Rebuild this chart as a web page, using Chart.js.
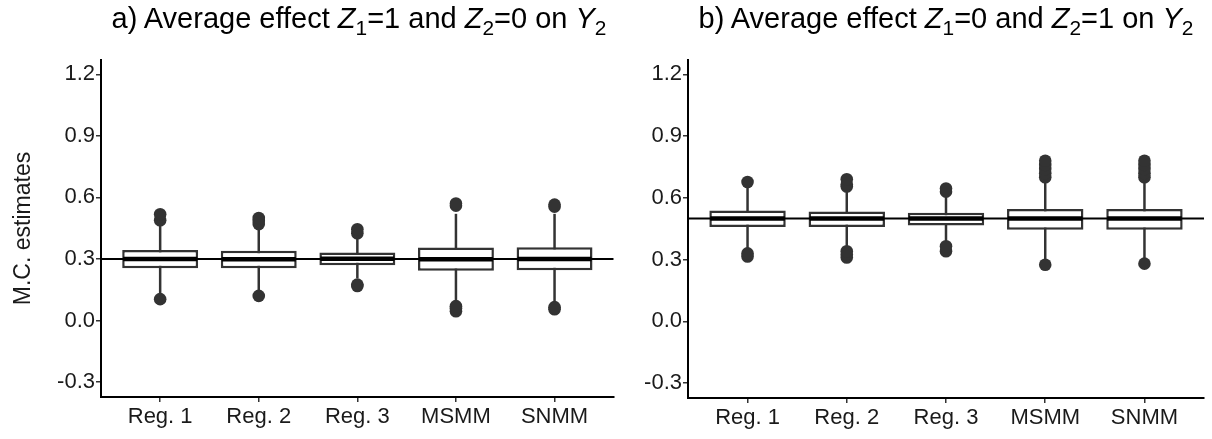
<!DOCTYPE html>
<html>
<head>
<meta charset="utf-8">
<script src="https://cdn.jsdelivr.net/npm/chart.js@4.4.1/dist/chart.umd.min.js"></script>
<style>
  body { margin: 0; background: #fff; font-family: "Liberation Sans", Arial, sans-serif; }
  #wrap { position: relative; width: 1212px; height: 439px; overflow: hidden; }
  .panel { position: absolute; top: 0; }
  .title { position: absolute; top: 2px; font-size: 29px; color: #000; white-space: nowrap; transform: translateX(-50%); }
  .title sub { font-size: 0.72em; vertical-align: -0.32em; line-height: 0; }
</style>
</head>
<body>
<div id="wrap">
  <canvas id="chartA" class="panel" style="left:0" width="620" height="439"></canvas>
  <canvas id="chartB" class="panel" style="left:620px" width="592" height="439"></canvas>
  <div class="title" style="left:359px">a) Average effect <i>Z</i><sub>1</sub>=1 and <i>Z</i><sub>2</sub>=0 on <i>Y</i><sub>2</sub></div>
  <div class="title" style="left:946px">b) Average effect <i>Z</i><sub>1</sub>=0 and <i>Z</i><sub>2</sub>=1 on <i>Y</i><sub>2</sub></div>
</div>
<script>
// Datos
const categories = ['Reg. 1', 'Reg. 2', 'Reg. 3', 'MSMM', 'SNMM'];
const yTicks = [-0.3, 0.0, 0.3, 0.6, 0.9, 1.2];

// Panel a) efecto Z1=1, Z2=0
const aTrue = 0.3;
const aLower = [0.125, 0.135, 0.205, 0.08, 0.08];
const aQ1 = [0.255, 0.255, 0.269, 0.243, 0.245];
const aMedian = [0.300, 0.299, 0.301, 0.299, 0.300];
const aQ3 = [0.344, 0.340, 0.331, 0.356, 0.357];
const aUpper = [0.465, 0.455, 0.405, 0.52, 0.52];
const aOutliers = [
    [0.104, 0.489, 0.518],
    [0.12, 0.47, 0.485, 0.50],
    [0.168, 0.175, 0.425, 0.445],
    [0.045, 0.06, 0.07, 0.56, 0.57],
    [0.055, 0.065, 0.555, 0.565]
];

// Panel b) efecto Z1=0, Z2=1
const bTrue = 0.5;
const bLower = [0.345, 0.35, 0.38, 0.30, 0.30];
const bQ1 = [0.458, 0.458, 0.466, 0.445, 0.445];
const bMedian = [0.500, 0.499, 0.500, 0.500, 0.499];
const bQ3 = [0.539, 0.533, 0.528, 0.546, 0.546];
const bUpper = [0.65, 0.64, 0.61, 0.69, 0.69];
const bOutliers = [
    [0.315, 0.33, 0.677],
    [0.31, 0.325, 0.34, 0.655, 0.665, 0.69],
    [0.34, 0.365, 0.63, 0.645],
    [0.275, 0.70, 0.72, 0.74, 0.76, 0.78],
    [0.28, 0.70, 0.72, 0.74, 0.76, 0.78]
];

const TEXT = '#1a1a1a';
const FONT = '"Liberation Sans", Arial, sans-serif';

// Bigotes (antes de las cajas) y medianas (después)
function boxParts(lower, upper, median) {
    return {
        id: 'boxParts',
        beforeDatasetDraw(chart, args) {
            if (args.index !== 0) return;
            const { ctx, scales: { x, y } } = chart;
            ctx.save();
            ctx.strokeStyle = '#333';
            ctx.lineWidth = 2.5;
            lower.forEach((lo, i) => {
                const px = x.getPixelForValue(i + 1);
                ctx.beginPath();
                ctx.moveTo(px, y.getPixelForValue(lo));
                ctx.lineTo(px, y.getPixelForValue(upper[i]));
                ctx.stroke();
            });
            ctx.restore();
        },
        afterDatasetDraw(chart, args) {
            if (args.index !== 0) return;
            const { ctx, scales: { y } } = chart;
            ctx.save();
            ctx.strokeStyle = '#000';
            ctx.lineWidth = 4.5;
            args.meta.data.forEach((bar, i) => {
                const { x, width } = bar.getProps(['x', 'width'], true);
                const py = y.getPixelForValue(median[i]);
                ctx.beginPath();
                ctx.moveTo(x - width / 2 + 1, py);
                ctx.lineTo(x + width / 2 - 1, py);
                ctx.stroke();
            });
            ctx.restore();
        }
    };
}

function crearPanel(id, q1, median, q3, lower, upper, outliers, trueValue, cfg) {
    const outlierPoints = [];
    outliers.forEach((vals, i) => vals.forEach(v => outlierPoints.push({ x: i + 1, y: v })));

    return new Chart(document.getElementById(id), {
        type: 'bar',
        data: {
            datasets: [
                {
                    data: q1.map((v, i) => ({ x: i + 1, y: [v, q3[i]] })),
                    backgroundColor: '#fff',
                    borderColor: '#333',
                    borderWidth: 2.5,
                    borderSkipped: false,
                    barPercentage: 0.77,
                    categoryPercentage: 1,
                    order: 3
                },
                {
                    type: 'scatter',
                    data: outlierPoints,
                    pointRadius: 6.3,
                    backgroundColor: '#333',
                    borderWidth: 0,
                    order: 2
                },
                {
                    type: 'line',
                    data: [{ x: 0.4, y: trueValue }, { x: 5.6, y: trueValue }],
                    borderColor: '#000',
                    borderWidth: 2,
                    pointRadius: 0,
                    order: 1
                }
            ]
        },
        options: {
            responsive: false,
            animation: false,
            events: [],
            layout: { padding: { top: 60, right: cfg.padRight, left: 0, bottom: 0 } },
            plugins: { legend: { display: false }, tooltip: { enabled: false } },
            scales: {
                x: {
                    type: 'linear',
                    min: 0.4,
                    max: 5.6,
                    offset: false,
                    afterBuildTicks: s => { s.ticks = categories.map((c, i) => ({ value: i + 1 })); },
                    afterFit: s => { s.height = cfg.xHeight; },
                    ticks: {
                        callback: v => categories[v - 1],
                        font: { family: FONT, size: 22 },
                        color: TEXT,
                        padding: 2,
                        maxRotation: 0,
                        autoSkip: false
                    },
                    grid: { drawOnChartArea: false, offset: false, tickLength: 5, color: '#333', lineWidth: 1.5 },
                    border: { color: '#000', width: 2 }
                },
                y: {
                    min: -0.373,
                    max: 1.27,
                    afterBuildTicks: s => { s.ticks = yTicks.map(v => ({ value: v })); },
                    afterFit: s => { s.width = cfg.yWidth; },
                    ticks: {
                        callback: v => v.toFixed(1),
                        font: { family: FONT, size: 22 },
                        color: TEXT,
                        padding: 1
                    },
                    grid: { drawOnChartArea: false, tickLength: 5, color: '#333', lineWidth: 1.5 },
                    border: { color: '#000', width: 2 },
                    title: {
                        display: cfg.yTitle,
                        text: 'M.C. estimates',
                        font: { family: FONT, size: 23 },
                        color: TEXT,
                        padding: { top: 10, bottom: 0 }
                    }
                }
            }
        },
        plugins: [boxParts(lower, upper, median)]
    });
}

crearPanel('chartA', aQ1, aMedian, aQ3, aLower, aUpper, aOutliers, aTrue,
    { padRight: 4, yWidth: 101, xHeight: 42, yTitle: true });
crearPanel('chartB', bQ1, bMedian, bQ3, bLower, bUpper, bOutliers, bTrue,
    { padRight: 8, yWidth: 68, xHeight: 41, yTitle: false });
</script>
</body>
</html>
